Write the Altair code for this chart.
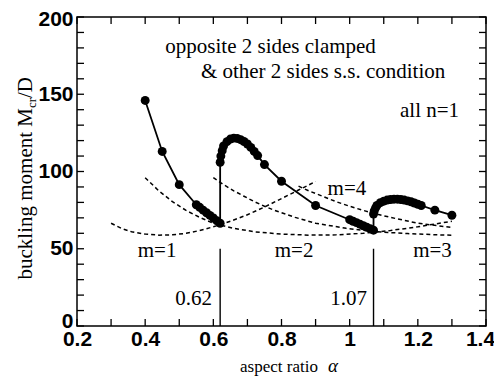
import altair as alt
import pandas as pd

# ---------------- data ----------------
# solid curve with markers (drawing order)
solid_x = [0.40, 0.45, 0.50, 0.55, 0.56, 0.57, 0.58, 0.59, 0.60, 0.61, 0.62,
           0.62, 0.622, 0.626, 0.63, 0.64, 0.65, 0.66, 0.67, 0.68, 0.69, 0.70, 0.71, 0.72, 0.73,
           0.75, 0.80, 0.90,
           1.00, 1.01, 1.02, 1.03, 1.04, 1.05, 1.06, 1.07,
           1.07, 1.072, 1.076, 1.08, 1.09, 1.10, 1.11, 1.12, 1.13, 1.14, 1.15, 1.16, 1.17,
           1.18, 1.19, 1.20, 1.21,
           1.25, 1.30]
solid_y = [146, 113, 91.5, 78.5, 76.8, 75.0, 73.3, 71.6, 69.9, 68.2, 66.5,
           106, 110, 113.5, 116.5, 119.3, 121, 121.6, 121.4, 120.6, 119.4, 117.8, 115.6, 113, 110.3,
           104.5, 93.7, 78,
           68.8, 67.8, 66.9, 65.9, 64.9, 64.0, 63.0, 62.0,
           72.5, 74.5, 76.5, 78, 79.8, 80.8, 81.5, 81.9, 82.1, 82.1, 81.9, 81.5, 81.0,
           80.4, 79.6, 78.8, 78.0,
           75.0, 71.7]

# dashed curves, one per m
m1_x = [0.30, 0.33, 0.36, 0.40, 0.44, 0.48, 0.52, 0.56, 0.60, 0.65, 0.70, 0.75, 0.80, 0.85, 0.90]
m1_y = [66.5, 63.2, 61.0, 59.5, 58.8, 59.0, 60.0, 61.8, 64.2, 67.8, 72.0, 77.0, 82.5, 88.0, 93.5]

m2_x = [0.40, 0.44, 0.48, 0.52, 0.56, 0.60, 0.66, 0.72, 0.80, 0.88, 0.96, 1.04, 1.12, 1.20, 1.30]
m2_y = [96.0, 87.5, 80.5, 74.8, 70.3, 66.5, 63.2, 61.0, 59.5, 58.8, 59.0, 60.0, 61.8, 64.2, 67.8]

m3_x = [0.60, 0.63, 0.66, 0.69, 0.72, 0.75, 0.78, 0.84, 0.90, 0.99, 1.08, 1.17, 1.26, 1.30]
m3_y = [96.0, 91.5, 87.5, 84.0, 80.5, 77.5, 74.8, 70.3, 66.5, 63.2, 61.0, 59.8, 59.0, 58.8]

m4_x = [0.85, 0.88, 0.92, 0.96, 1.00, 1.04, 1.08, 1.12, 1.20, 1.30]
m4_y = [90.5, 87.5, 84.0, 80.5, 77.5, 74.8, 72.4, 70.3, 66.5, 63.8]

# vertical markers of the critical aspect ratios
marker_x = [0.62, 1.07]
marker_y0 = [0, 0]
marker_y1 = [50, 50]

# annotations
ann_c_text = ["opposite 2 sides clamped", "& other 2 sides s.s. condition",
              "m=1", "m=2", "m=3", "m=4"]
ann_c_x = [0.768, 0.922, 0.435, 0.837, 1.243, 0.992]
ann_c_y = [176.4, 160.2, 44.6, 44.6, 44.6, 84.6]
ann_r_text = ["all n=1", "0.62", "1.07"]
ann_r_x = [1.321, 0.596, 1.051]
ann_r_y = [135, 13.6, 13.6]

# axes
x_ticks = [0.2, 0.3, 0.4, 0.5, 0.6, 0.7, 0.8, 0.9, 1.0, 1.1, 1.2, 1.3, 1.4]
y_ticks = [0, 10, 20, 30, 40, 50, 60, 70, 80, 90, 100, 110, 120, 130, 140, 150,
           160, 170, 180, 190, 200]
x_labels = [0.2, 0.4, 0.6, 0.8, 1.0, 1.2, 1.4]
y_labels = [0, 50, 100, 150, 200]

# ---------------- layout ----------------
W, H = 409, 309
TICK = 7
SERIF = "Liberation Serif"
SANS = "Liberation Sans"

xs = alt.Scale(domain=[0.2, 1.4], nice=False, zero=False)
ys = alt.Scale(domain=[0, 200], nice=False, zero=False)

X = alt.X("x:Q", scale=xs, title=None,
          axis=alt.Axis(values=x_labels, ticks=False, domain=False, grid=False,
                        labelFont=SANS, labelFontSize=21, labelColor="black",
                        labelFontWeight="bold",
                        labelOffset={"condition": {"test": "datum.value > 1.3", "value": -6},
                                     "value": 0},
                        labelPadding=2, labelFlush=False, labelOverlap=False,
                        format="~g"))
Y = alt.Y("y:Q", scale=ys, title=None,
          axis=alt.Axis(values=y_labels, ticks=False, domain=False, grid=False,
                        labelFont=SANS, labelFontSize=21, labelColor="black",
                        labelFontWeight="bold",
                        labelOffset={"condition": [
                            {"test": "datum.value > 190", "value": 2},
                            {"test": "datum.value < 1", "value": -5}],
                            "value": 0},
                        labelPadding=4, labelFlush=False, labelOverlap=False,
                        format="d"))

solid_df = pd.DataFrame({"x": solid_x, "y": solid_y, "i": list(range(len(solid_x)))})

rows = []
for name, mx, my in [("m=1", m1_x, m1_y), ("m=2", m2_x, m2_y),
                     ("m=3", m3_x, m3_y), ("m=4", m4_x, m4_y)]:
    for k, (a, b) in enumerate(zip(mx, my)):
        rows.append({"m": name, "x": a, "y": b, "i": k})
dash_df = pd.DataFrame(rows)

dashed = alt.Chart(dash_df).mark_line(
    color="black", strokeWidth=1.5, strokeDash=[4, 3]
).encode(x=X, y=Y, detail="m:N", order="i:Q")

solid = alt.Chart(solid_df).mark_line(color="black", strokeWidth=1.8).encode(
    x=X, y=Y, order="i:Q")
dots = alt.Chart(solid_df).mark_circle(color="black", size=80, opacity=1).encode(x=X, y=Y)

marker_df = pd.DataFrame({"x": marker_x, "y": marker_y0, "y2": marker_y1})
markers = alt.Chart(marker_df).mark_rule(color="black", strokeWidth=1.4).encode(
    x=X, y=Y, y2="y2:Q")

ann_c = alt.Chart(pd.DataFrame({"x": ann_c_x, "y": ann_c_y, "t": ann_c_text})).mark_text(
    font=SERIF, fontSize=21, color="black", align="center", baseline="alphabetic"
).encode(x=X, y=Y, text="t:N")
ann_r = alt.Chart(pd.DataFrame({"x": ann_r_x, "y": ann_r_y, "t": ann_r_text})).mark_text(
    font=SERIF, fontSize=21, color="black", align="right", baseline="alphabetic"
).encode(x=X, y=Y, text="t:N")

# inward ticks on all four sides
xt_df = pd.DataFrame({"x": x_ticks})
yt_df = pd.DataFrame({"y": y_ticks})
tick_style = dict(color="black", strokeWidth=1.3)
t_bottom = alt.Chart(xt_df).mark_rule(**tick_style).encode(
    x=X, y=alt.value(H), y2=alt.value(H - TICK))
t_top = alt.Chart(xt_df).mark_rule(**tick_style).encode(
    x=X, y=alt.value(0), y2=alt.value(TICK))
t_left = alt.Chart(yt_df).mark_rule(**tick_style).encode(
    y=Y, x=alt.value(0), x2=alt.value(TICK))
t_right = alt.Chart(yt_df).mark_rule(**tick_style).encode(
    y=Y, x=alt.value(W), x2=alt.value(W - TICK))


def label(text, px, py, size, align, angle=0, style="normal"):
    return alt.Chart(pd.DataFrame({"t": [text]})).mark_text(
        font=SERIF, fontSize=size, color="black", align=align,
        baseline="alphabetic", angle=angle, fontStyle=style
    ).encode(x=alt.value(px), y=alt.value(py), text="t:N")


# y axis title: buckling moment  M_cr/D (rotated)
yt1 = label("buckling moment  M", -45, 91, 21, "right", 270)
yt2 = label("cr", -41, 81, 13, "right", 270)
yt3 = label("/D", -45, 60, 21, "right", 270)
# x axis title
xt1 = label("aspect ratio", 163, 355, 17, "left")
xt2 = label("\u03b1", 251, 355, 19, "left", 0, "italic")

chart = alt.layer(
    t_bottom, t_top, t_left, t_right,
    dashed, markers, solid, dots, ann_c, ann_r,
    yt1, yt2, yt3, xt1, xt2,
).properties(
    width=W, height=H,
    autosize=alt.AutoSizeParams(type="none"),
    padding={"left": 69, "top": 9, "right": 8, "bottom": 50},
).configure_view(stroke="black", strokeWidth=1.5)

chart.save("out.html", embed_options={"renderer": "svg", "actions": False})
